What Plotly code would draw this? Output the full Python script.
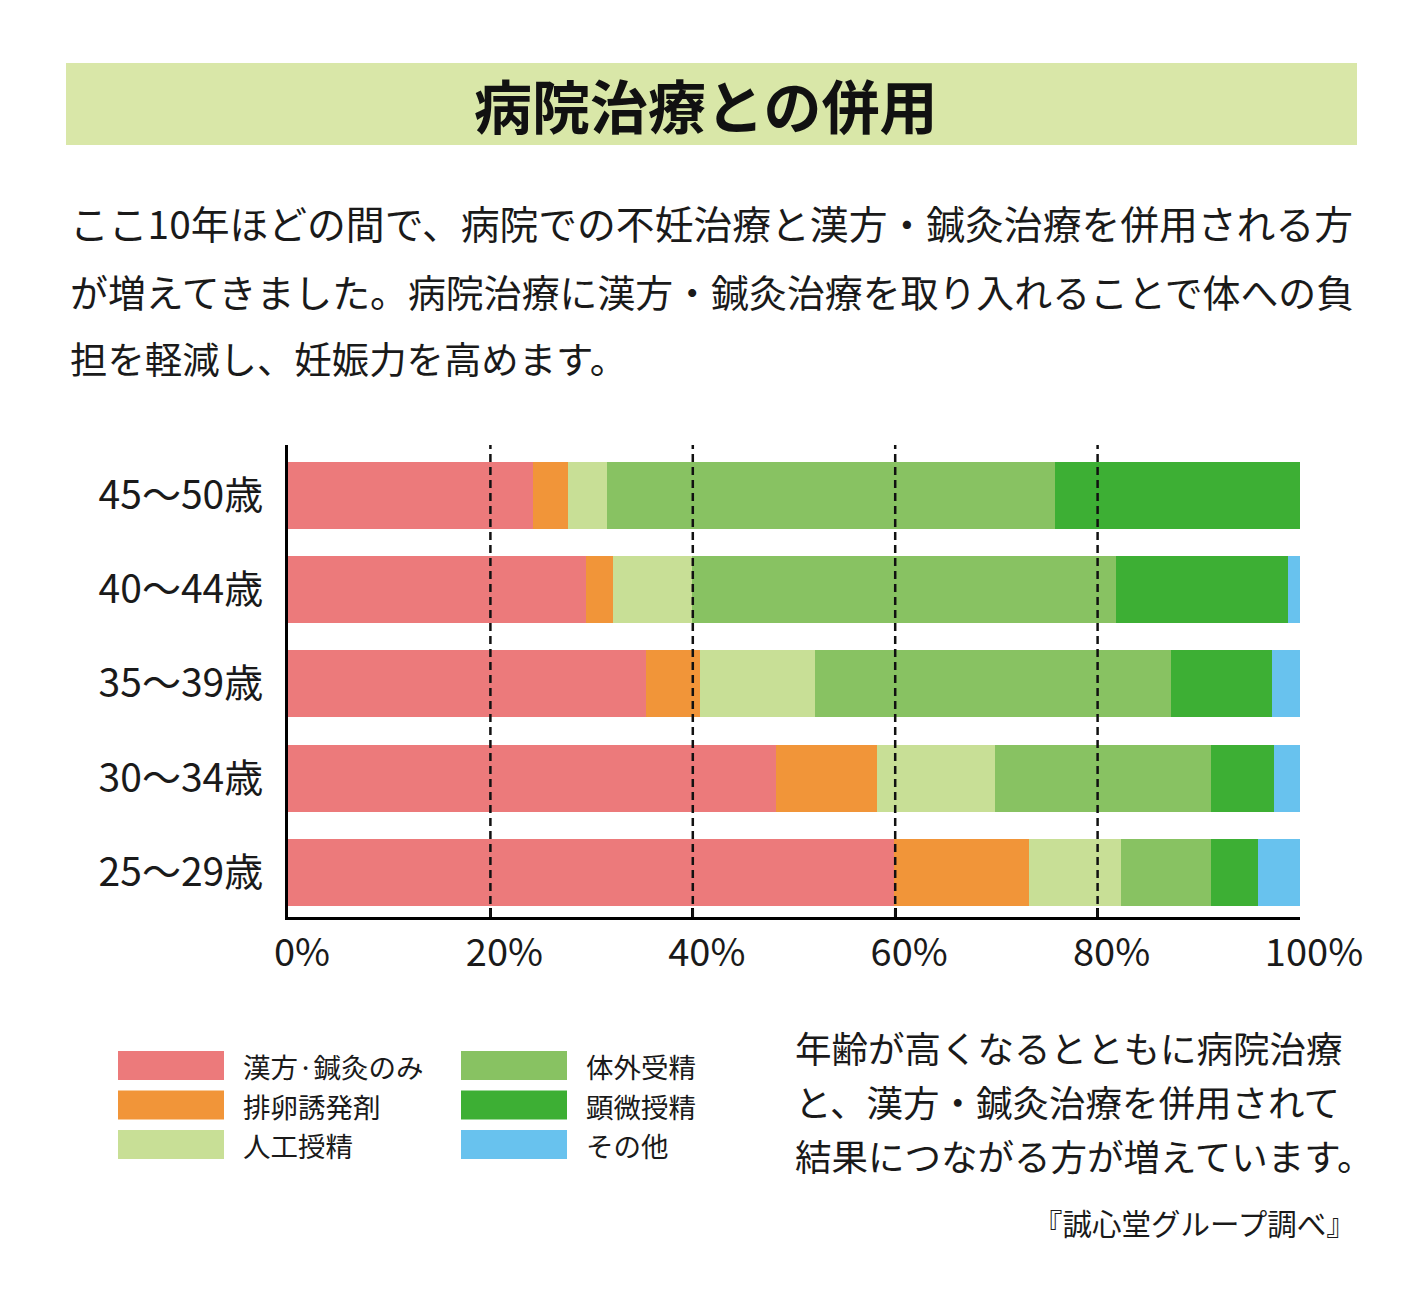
import plotly.graph_objects as go

W, H = 1401, 1305

# ---- data ----
age_groups = ["25～29歳", "30～34歳", "35～39歳", "40～44歳", "45～50歳"]
series_names = ["漢方·鍼灸のみ", "排卵誘発剤", "人工授精", "体外受精", "顕微授精", "その他"]
series_colors = ["#ec7a7b", "#f19539", "#c8df96", "#88c262", "#3daf34", "#68c2ee"]
# values per series, order follows age_groups (25-29 ... 45-50), in %
kampo_only = [59.9, 48.2, 35.4, 29.4, 24.2]
ovulation = [13.3, 10.0, 5.3, 2.7, 3.5]
artificial = [9.1, 11.7, 11.4, 7.8, 3.8]
ivf = [8.9, 21.3, 35.2, 41.9, 44.3]
icsi = [4.6, 6.2, 9.9, 17.0, 24.2]
other = [4.2, 2.6, 2.8, 1.2, 0.0]
series_values = [kampo_only, ovulation, artificial, ivf, icsi, other]
x_ticks = [0, 20, 40, 60, 80, 100]
grid_vals = [20, 40, 60, 80]

title_text = "病院治療との併用"
intro_lines = [
    "ここ10年ほどの間で、病院での不妊治療と漢方・鍼灸治療を併用される方",
    "が増えてきました。病院治療に漢方・鍼灸治療を取り入れることで体への負",
    "担を軽減し、妊娠力を高めます。",
]
note_lines = [
    "年齢が高くなるとともに病院治療",
    "と、漢方・鍼灸治療を併用されて",
    "結果につながる方が増えています。",
]
source_text = "『誠心堂グループ調べ』"


def px(x):
    return x / W


def py(y):
    return 1 - y / H


JP = "Noto Sans CJK JP"

fig = go.Figure()
for name, color, vals in zip(series_names, series_colors, series_values):
    fig.add_trace(go.Bar(
        y=age_groups, x=vals, name=name, orientation="h",
        marker=dict(color=color, line=dict(width=0)),
        showlegend=False,
    ))

shapes = []
annotations = []

# title band
shapes.append(dict(type="rect", xref="paper", yref="paper",
                   x0=px(66), x1=px(1357), y0=py(145), y1=py(63),
                   fillcolor="#d9e7a8", line=dict(width=0), layer="below"))
annotations.append(dict(text="<b>" + title_text + "</b>", xref="paper", yref="paper",
                        x=px(705), y=py(104), xanchor="center", yanchor="middle",
                        showarrow=False, font=dict(family=JP, size=58, color="#111")))

# intro paragraph
intro_sizes = [38.8, 37.9, 37.4]
for i, line in enumerate(intro_lines):
    annotations.append(dict(text=line, xref="paper", yref="paper",
                            x=px(68), y=py(222 + 68 * i), xanchor="left", yanchor="middle",
                            showarrow=False, font=dict(family=JP, size=intro_sizes[i], color="#1a1a1a")))

# dashed grid lines above bars
for v in grid_vals:
    shapes.append(dict(type="line", xref="x", yref="y domain", x0=v, x1=v, y0=0, y1=1,
                       line=dict(color="#111", width=2.5, dash="8px,5px"), layer="above"))

# custom legend built from series lists
for i, (name, color) in enumerate(zip(series_names, series_colors)):
    col, row = divmod(i, 3)
    sx = 118 + col * 343
    sy = 1051 + row * 39.5
    shapes.append(dict(type="rect", xref="paper", yref="paper",
                       x0=px(sx), x1=px(sx + 106), y0=py(sy + 29), y1=py(sy),
                       fillcolor=color, line=dict(width=0)))
    annotations.append(dict(text=name, xref="paper", yref="paper",
                            x=px(sx + 123), y=py(sy + 15), xanchor="left", yanchor="middle",
                            showarrow=False, font=dict(family=JP, size=27.5, color="#1a1a1a")))

# right-hand note
for i, line in enumerate(note_lines):
    annotations.append(dict(text=line, xref="paper", yref="paper",
                            x=px(793), y=py(1047 + 54 * i), xanchor="left", yanchor="middle",
                            showarrow=False, font=dict(family=JP, size=36.5, color="#1a1a1a")))

annotations.append(dict(text=source_text, xref="paper", yref="paper",
                        x=px(1358), y=py(1222), xanchor="right", yanchor="middle",
                        showarrow=False, font=dict(family=JP, size=29.5, color="#1a1a1a")))

fig.update_layout(
    width=W, height=H,
    margin=dict(l=0, r=0, t=0, b=0, autoexpand=False),
    paper_bgcolor="white", plot_bgcolor="white",
    barmode="stack", bargap=0.29,
    shapes=shapes, annotations=annotations,
    xaxis=dict(domain=[px(288), px(1300)], range=[0, 100], automargin=False,
               tickvals=x_ticks, ticktext=[f"{t}%" for t in x_ticks],
               showgrid=False, zeroline=False,
               showline=True, linecolor="black", linewidth=3,
               ticks="inside", ticklen=9, tickwidth=3, tickcolor="black",
               ticklabelshift=14, ticklabelstandoff=0,
               tickfont=dict(family=JP, size=38, color="#1a1a1a")),
    yaxis=dict(domain=[py(917), py(445)], range=[-0.47, 4.53], automargin=False,
               categoryorder="array", categoryarray=age_groups,
               showgrid=False, zeroline=False,
               showline=True, linecolor="black", linewidth=3,
               ticks="", ticklabelstandoff=14,
               tickfont=dict(family=JP, size=39, color="#1a1a1a")),
)

fig.write_html("out.html", config={"displayModeBar": False},
               post_script="document.body.style.margin='0';document.body.style.overflow='hidden';")
